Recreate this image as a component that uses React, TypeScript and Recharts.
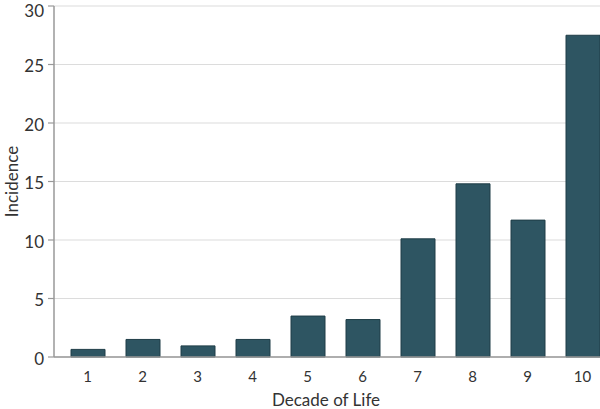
import React from 'react';
import { BarChart, Bar, XAxis, YAxis, CartesianGrid, Label } from 'recharts';

const decades = ['1', '2', '3', '4', '5', '6', '7', '8', '9', '10'];
const incidence = [0.65, 1.5, 0.95, 1.5, 3.5, 3.2, 10.1, 14.8, 11.7, 27.5];
const yTicks = [0, 5, 10, 15, 20, 25, 30];

const data = decades.map((d, i) => ({ decade: d, incidence: incidence[i] }));

const FONT = 'Lato, sans-serif';

const YTick = (props: any) => {
  const { x, y, payload } = props;
  const yy = Math.max(y + 1, 10);
  return (
    <text
      x={x}
      y={yy}
      textAnchor="end"
      dominantBaseline="central"
      style={{ fill: '#333', fontSize: 17, fontFamily: FONT }}
    >
      {payload.value}
    </text>
  );
};

export default function App() {
  return (
    <div style={{ position: 'absolute', left: 0, top: 0, width: 600, height: 409, overflow: 'hidden', background: '#fff' }}>
      <BarChart
        width={612}
        height={409}
        data={data}
        margin={{ top: 6, right: 2, bottom: 22, left: 0 }}
        barCategoryGap={0}
      >
        <CartesianGrid vertical={false} stroke="#dcdcdc" strokeWidth={1.2} />
        <XAxis
          dataKey="decade"
          height={30}
          padding={{ left: 6, right: 0 }}
          tickLine={false}
          axisLine={{ stroke: '#999', strokeWidth: 1.5 }}
          tick={{ fill: '#333', fontSize: 15, fontFamily: FONT }}
          tickMargin={8}
        >
          <Label
            content={(props: any) => {
              const vb = props.viewBox || {};
              const cx = (vb.x ?? 0) + (vb.width ?? 0) / 2 - 6;
              const cy = 399;
              return (
                <text
                  x={cx}
                  y={cy}
                  textAnchor="middle"
                  dominantBaseline="central"
                  style={{ fill: '#333', fontSize: 17, fontFamily: FONT }}
                >
                  Decade of Life
                </text>
              );
            }}
          />
        </XAxis>
        <YAxis
          width={54}
          domain={[0, 30]}
          ticks={yTicks}
          interval={0}
          tickSize={6}
          tickLine={{ stroke: '#999', strokeWidth: 1.2 }}
          axisLine={{ stroke: '#999', strokeWidth: 1.5 }}
          tick={<YTick />}
          tickMargin={4}
        >
          <Label
            content={(props: any) => {
              const vb = props.viewBox || {};
              const cx = 11;
              const cy = (vb.y ?? 0) + (vb.height ?? 0) / 2;
              return (
                <text
                  x={cx}
                  y={cy}
                  transform={`rotate(-90, ${cx}, ${cy})`}
                  textAnchor="middle"
                  dominantBaseline="central"
                  style={{ fill: '#333', fontSize: 17, fontFamily: FONT }}
                >
                  Incidence
                </text>
              );
            }}
          />
        </YAxis>
        <Bar
          dataKey="incidence"
          fill="#2e5562"
          stroke="#1f3d47"
          strokeWidth={1}
          barSize={34}
          isAnimationActive={false}
        />
      </BarChart>
    </div>
  );
}
